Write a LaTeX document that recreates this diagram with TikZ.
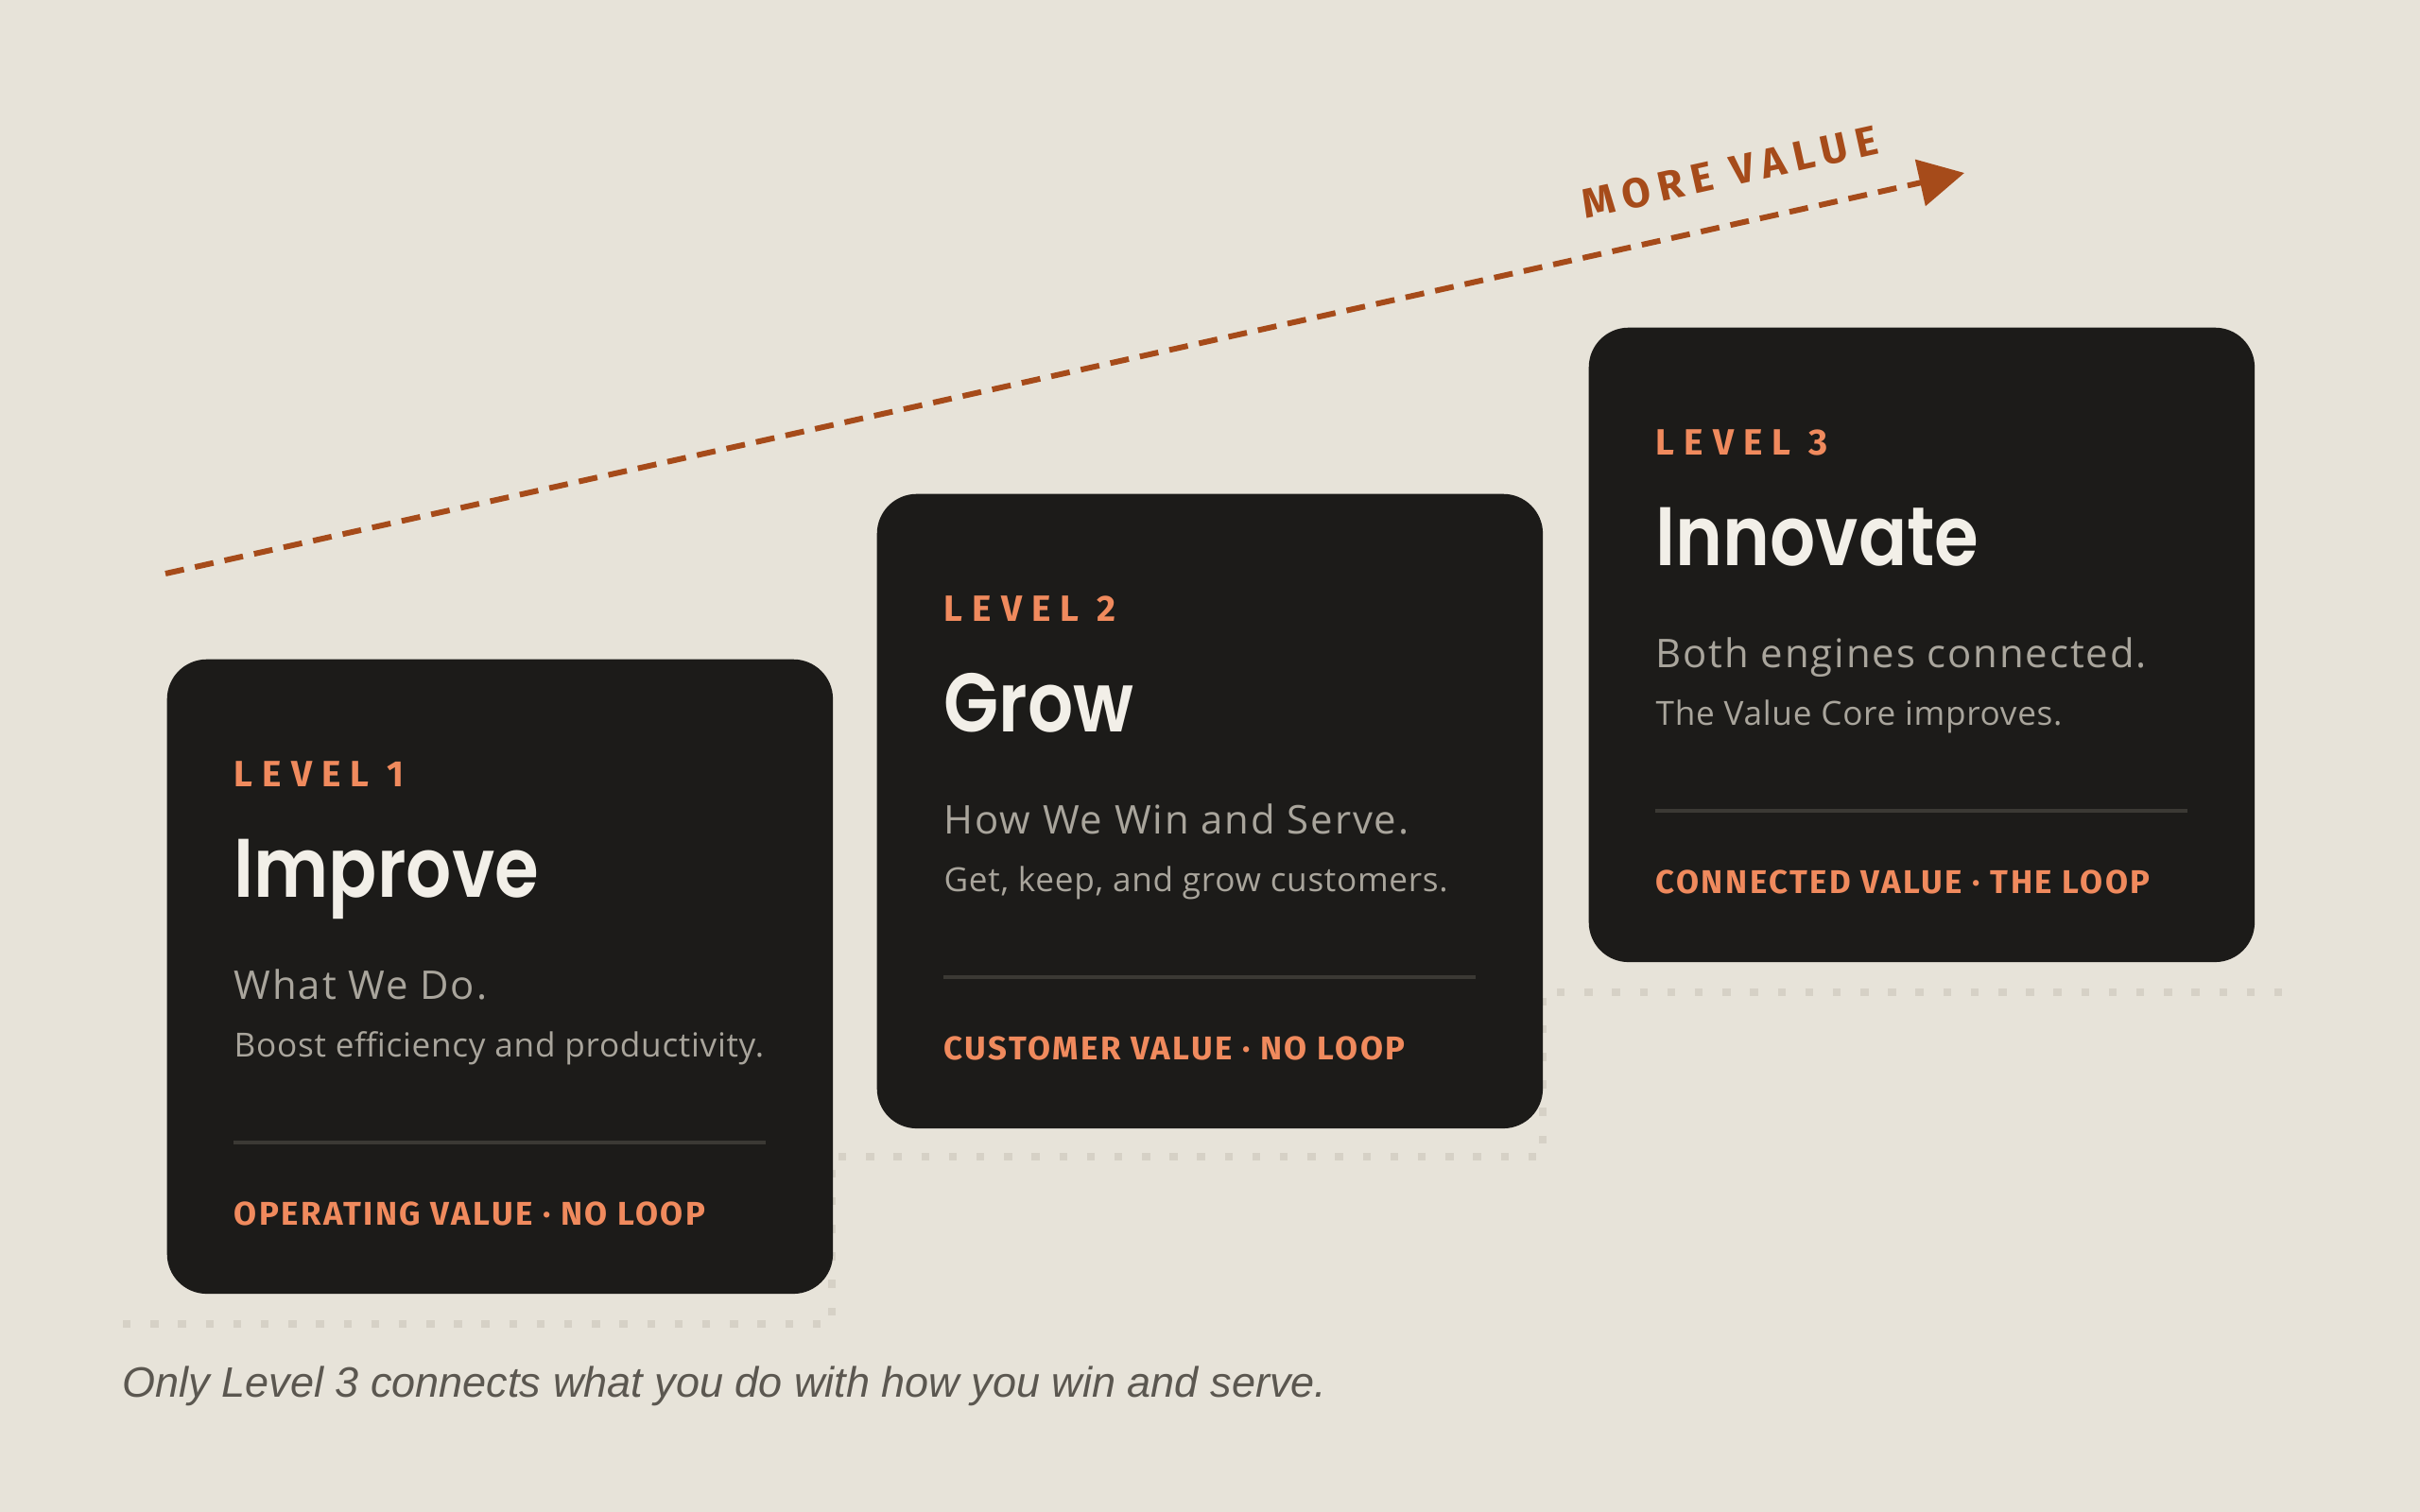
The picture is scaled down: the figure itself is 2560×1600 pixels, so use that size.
\documentclass[tikz,border=0pt]{standalone}
\usepackage{fontspec}
\usetikzlibrary{arrows.meta}
\setmainfont{Open Sans}
\newfontfamily\headfont{Poppins}[UprightFont=* SemiBold, FakeStretch=0.86]
\newfontfamily\levelfont{Fira Sans}[LetterSpace=26]
\newfontfamily\tagfont{Fira Sans}[LetterSpace=7]
\newfontfamily\notefont{Liberation Sans}

\definecolor{paper}{HTML}{E7E3D9}
\definecolor{cardbg}{HTML}{1C1B19}
\definecolor{tagc}{HTML}{F08A5D}
\definecolor{rust}{HTML}{A64B1A}
\definecolor{headc}{HTML}{F2EFE8}
\definecolor{subc}{HTML}{A9A59C}
\definecolor{rulec}{HTML}{3B3934}
\definecolor{dotc}{HTML}{D6D1C6}
\definecolor{notec}{HTML}{5B5750}

\begin{document}
\begin{tikzpicture}[x=0.01cm, y=-0.01cm,
  card/.style={fill=cardbg, rounded corners=0.42cm, minimum width=7.04cm, minimum height=6.71cm, anchor=north west, inner sep=0pt},
  lvl/.style={anchor=base west, inner sep=0pt, text=tagc, font=\levelfont\bfseries\fontsize{11}{13}\selectfont},
  head/.style={anchor=base west, inner sep=0pt, text=headc, font=\headfont\fontsize{25}{30}\selectfont},
  sub/.style={anchor=base west, inner sep=0pt, text=subc, font=\addfontfeature{LetterSpace=4.5}\fontsize{11.9}{14}\selectfont},
  desc/.style={anchor=base west, inner sep=0pt, text=subc, font=\addfontfeature{LetterSpace=2}\fontsize{10}{12}\selectfont},
  tag/.style={anchor=base west, inner sep=0pt, text=tagc, font=\tagfont\bfseries\fontsize{9.9}{12}\selectfont},
  rule/.style={draw=rulec, line width=0.9pt},
  stairs/.style={draw=dotc, line width=2.2pt, dash pattern=on 2.4pt off 5.9pt},
  trend/.style={draw=rust, line width=1.7pt, dash pattern=on 5.7pt off 3.4pt, -{Triangle[length=13.6pt, width=14pt]}}]

% page
\fill[paper] (0,0) rectangle (2560,1600);

% dotted steps behind the cards
\draw[stairs] (130,1401) -- (880,1401) -- (880,1224) -- (1632,1224) -- (1632,1050) -- (2435,1050);

% value arrow
\coordinate (start) at (175,607);
\coordinate (tip) at (2078,183);
\draw[trend] (start) -- node[pos=0.876, sloped, above=0.36cm, inner sep=0pt, text=rust, font=\levelfont\addfontfeature{LetterSpace=20}\bfseries\fontsize{12.5}{15}\selectfont] (mv) {MORE VALUE} (tip);

% level 1
\node[card] (c1) at (176,697) {};
\node[lvl] (l1) at ([shift={(71,135)}]c1.north west) {LEVEL 1};
\node[head] (t1) at ([shift={(71,252)}]c1.north west) {Improve};
\node[sub] (s1) at ([shift={(71,360)}]c1.north west) {What We Do.};
\node[desc] (d1) at ([shift={(71,421)}]c1.north west) {Boost efficiency and productivity.};
\draw[rule] ([shift={(71,512)}]c1.north west) -- ([shift={(634,512)}]c1.north west);
\node[tag] (f1) at ([shift={(71,599)}]c1.north west) {OPERATING VALUE · NO LOOP};

% level 2
\node[card] (c2) at (927,522) {};
\node[lvl] (l2) at ([shift={(71,135)}]c2.north west) {LEVEL 2};
\node[head] (t2) at ([shift={(71,252)}]c2.north west) {Grow};
\node[sub] (s2) at ([shift={(71,360)}]c2.north west) {How We Win and Serve.};
\node[desc] (d2) at ([shift={(71,421)}]c2.north west) {Get, keep, and grow customers.};
\draw[rule] ([shift={(71,512)}]c2.north west) -- ([shift={(634,512)}]c2.north west);
\node[tag] (f2) at ([shift={(71,599)}]c2.north west) {CUSTOMER VALUE · NO LOOP};

% level 3
\node[card] (c3) at (1680,346) {};
\node[lvl] (l3) at ([shift={(71,135)}]c3.north west) {LEVEL 3};
\node[head] (t3) at ([shift={(71,252)}]c3.north west) {Innovate};
\node[sub] (s3) at ([shift={(71,360)}]c3.north west) {Both engines connected.};
\node[desc] (d3) at ([shift={(71,421)}]c3.north west) {The Value Core improves.};
\draw[rule] ([shift={(71,512)}]c3.north west) -- ([shift={(634,512)}]c3.north west);
\node[tag] (f3) at ([shift={(71,599)}]c3.north west) {CONNECTED VALUE · THE LOOP};

% caption
\node[anchor=base west, inner sep=0pt, text=notec, font=\notefont\itshape\fontsize{12.8}{16}\selectfont] (note) at (129,1478) {Only Level 3 connects what you do with how you win and serve.};
\end{tikzpicture}
\end{document}
